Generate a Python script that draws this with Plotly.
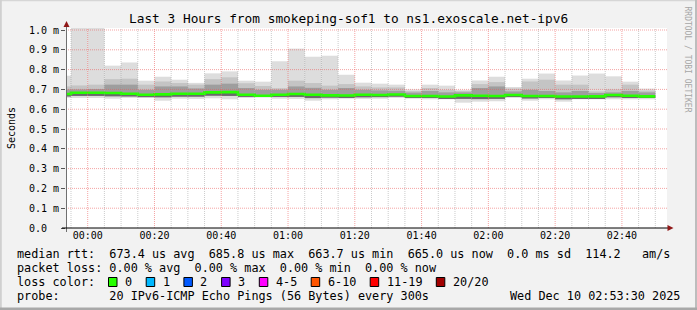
import plotly.graph_objects as go
import pandas as pd

# ---------------- data (RTT in milliseconds) ----------------
bin_start = pd.date_range("2025-12-09 23:50:00", periods=36, freq="5min")
range_start = "2025-12-09 23:53:30"
range_end = "2025-12-10 02:53:30"

rtt_max = [0.769, 1.012, 1.012, 0.820, 0.836, 0.744, 0.764, 0.749, 0.733, 0.781,
           0.791, 0.744, 0.739, 0.842, 0.906, 0.865, 0.870, 0.774, 0.734, 0.729,
           0.724, 0.700, 0.724, 0.719, 0.698, 0.745, 0.764, 0.712, 0.754, 0.780,
           0.745, 0.770, 0.780, 0.766, 0.739, 0.704]
rtt_p90 = [0.715, 0.720, 0.724, 0.752, 0.754, 0.724, 0.740, 0.732, 0.724, 0.752,
           0.761, 0.731, 0.717, 0.706, 0.744, 0.732, 0.719, 0.727, 0.715, 0.710,
           0.710, 0.692, 0.707, 0.698, 0.692, 0.727, 0.737, 0.704, 0.740, 0.749,
           0.724, 0.724, 0.690, 0.700, 0.724, 0.694]
rtt_p75 = [0.700, 0.700, 0.702, 0.724, 0.724, 0.698, 0.715, 0.715, 0.705, 0.724,
           0.729, 0.707, 0.698, 0.698, 0.715, 0.708, 0.698, 0.707, 0.698, 0.695,
           0.693, 0.684, 0.692, 0.685, 0.685, 0.707, 0.715, 0.690, 0.698, 0.692,
           0.685, 0.692, 0.682, 0.685, 0.692, 0.685]
rtt_median = [0.677, 0.683, 0.683, 0.682, 0.678, 0.673, 0.675, 0.678, 0.678, 0.685,
              0.686, 0.673, 0.668, 0.673, 0.677, 0.673, 0.670, 0.669, 0.673, 0.672,
              0.674, 0.667, 0.667, 0.664, 0.670, 0.668, 0.667, 0.672, 0.667, 0.667,
              0.664, 0.664, 0.665, 0.672, 0.668, 0.665]
rtt_p25 = [0.664, 0.667, 0.667, 0.665, 0.664, 0.661, 0.660, 0.663, 0.663, 0.668,
           0.667, 0.662, 0.663, 0.662, 0.662, 0.656, 0.658, 0.659, 0.660, 0.661,
           0.663, 0.659, 0.658, 0.656, 0.652, 0.651, 0.652, 0.663, 0.654, 0.657,
           0.650, 0.656, 0.656, 0.660, 0.658, 0.657]
rtt_min = [0.657, 0.657, 0.657, 0.653, 0.657, 0.657, 0.643, 0.653, 0.652, 0.655,
           0.650, 0.657, 0.659, 0.653, 0.652, 0.643, 0.650, 0.653, 0.652, 0.653,
           0.657, 0.653, 0.650, 0.650, 0.633, 0.638, 0.640, 0.657, 0.643, 0.650,
           0.638, 0.650, 0.650, 0.650, 0.650, 0.650]

y_tick_vals = [0.0, 0.1, 0.2, 0.3, 0.4, 0.5, 0.6, 0.7, 0.8, 0.9, 1.0]
y_tick_text = ["0.0\u00a0\u00a0", "0.1 m", "0.2 m", "0.3 m", "0.4 m", "0.5 m",
               "0.6 m", "0.7 m", "0.8 m", "0.9 m", "1.0 m"]

title_text = "Last 3 Hours from smokeping-sof1 to ns1.exoscale.net-ipv6"
line_rtt = "median rtt:  673.4 us avg  685.8 us max  663.7 us min  665.0 us now  0.0 ms sd  114.2   am/s"
line_loss = "packet loss: 0.00 % avg  0.00 % max  0.00 % min  0.00 % now"
line_color = "loss color:"
line_probe = "probe:       20 IPv6-ICMP Echo Pings (56 Bytes) every 300s"
stamp_text = "Wed Dec 10 02:53:30 2025"
loss_labels = ["0", "1", "2", "3", "4-5", "6-10", "11-19", "20/20"]
loss_colors = ["#26ff00", "#00b8ff", "#0059ff", "#7e00ff", "#ff00ff", "#ff5500", "#ff0000", "#a10000"]

# ---------------- layout geometry ----------------
W, H = 697, 310
ML, MR, MT, MB = 66, 30, 28, 82
PW, PH = W - ML - MR, H - MT - MB
MONO = "DejaVu Sans Mono"


def px(xp):
    return (xp - ML) / PW


def py(yp):
    return (H - MB - yp) / PH


def nb(s):
    return s.replace(" ", "\u00a0")


step = pd.Timedelta(minutes=5)
width_ms = [step.total_seconds() * 1000] * len(bin_start)

fig = go.Figure()

bands = [
    (rtt_min, rtt_max, "#dddddd"),
    (rtt_p25, rtt_p90, "#c4c4c4"),
    (rtt_median, rtt_p75, "#9e9e9e"),
    (rtt_p25, rtt_median, "#6a6a6a"),
]
for lo, hi, col in bands:
    fig.add_trace(go.Bar(
        x=bin_start, y=[h - l for h, l in zip(hi, lo)], base=lo,
        width=width_ms, offset=0,
        marker=dict(color=col, line=dict(width=0)),
        hoverinfo="skip",
    ))

fig.add_trace(go.Scatter(
    x=list(bin_start) + [bin_start[-1] + step],
    y=rtt_median + [rtt_median[-1]],
    mode="lines", line=dict(color="#26ff00", width=2.6, shape="hv"),
    hoverinfo="skip",
))

shapes = []
# grid (drawn above the smoke like rrdtool)
grid_times = pd.date_range("2025-12-09 23:55:00", "2025-12-10 02:50:00", freq="5min")
for t in grid_times:
    major = (t.minute % 20 == 0)
    shapes.append(dict(type="line", xref="x", yref="paper", x0=t, x1=t, y0=0, y1=1,
                       line=dict(color="rgba(235,90,90,0.55)" if major else "rgba(140,140,140,0.45)",
                                 width=1, dash="1px,1px")))
for v in y_tick_vals[1:]:
    shapes.append(dict(type="line", xref="paper", yref="y", x0=0, x1=1, y0=v, y1=v,
                       line=dict(color="rgba(235,90,90,0.55)", width=1, dash="1px,1px")))

# axes lines and arrows
shapes.append(dict(type="line", xref="paper", yref="paper", x0=px(66.5), x1=px(66.5),
                   y0=py(232), y1=py(26), line=dict(color="#707070", width=1)))
shapes.append(dict(type="path", xref="paper", yref="paper",
                   path=f"M {px(66.5)},{py(21)} L {px(69.5)},{py(27)} L {px(63.5)},{py(27)} Z",
                   fillcolor="#901818", line=dict(width=0)))
shapes.append(dict(type="line", xref="paper", yref="paper", x0=px(62), x1=px(669),
                   y0=py(228), y1=py(228), line=dict(color="#000000", width=1)))
shapes.append(dict(type="path", xref="paper", yref="paper",
                   path=f"M {px(673.5)},{py(228)} L {px(667.5)},{py(225)} L {px(667.5)},{py(231)} Z",
                   fillcolor="#901818", line=dict(width=0)))

# outer frame
shapes.append(dict(type="line", xref="paper", yref="paper", x0=px(0), x1=px(W), y0=py(0.5), y1=py(0.5),
                   line=dict(color="#d6d6d6", width=1.5)))
shapes.append(dict(type="line", xref="paper", yref="paper", x0=px(0.8), x1=px(0.8), y0=py(0), y1=py(H),
                   line=dict(color="#d0d0d0", width=2)))
shapes.append(dict(type="line", xref="paper", yref="paper", x0=px(W - 1), x1=px(W - 1), y0=py(0), y1=py(H),
                   line=dict(color="#bdbdbd", width=2)))
shapes.append(dict(type="line", xref="paper", yref="paper", x0=px(0), x1=px(W), y0=py(H - 1.2), y1=py(H - 1.2),
                   line=dict(color="#a8a8a8", width=2.5)))

annotations = []


def text(x, y, s, size, xanchor="left", color="#000000", angle=0):
    annotations.append(dict(xref="paper", yref="paper", x=px(x), y=py(y), text=nb(s),
                            showarrow=False, xanchor=xanchor, yanchor="middle", textangle=angle,
                            font=dict(family=MONO, size=size, color=color), borderpad=0))


text(348, 18.5, title_text, 12.8, xanchor="center")
text(11, 128, "Seconds", 10, xanchor="center", angle=-90)
text(687.5, 59, "RRDTOOL / TOBI OETIKER", 8, xanchor="center", color="#a6a6a6", angle=90)

text(16, 254.3, line_rtt, 11.8)
text(16, 268.3, line_loss, 11.8)
text(16, 282, line_color, 11.8)
text(16, 296.3, line_probe, 11.8)
text(681, 296.3, stamp_text, 11.8, xanchor="right")

# loss colour boxes
bx = 108.5
for lab, col in zip(loss_labels, loss_colors):
    shapes.append(dict(type="rect", xref="paper", yref="paper",
                       x0=px(bx), x1=px(bx + 8.5), y0=py(277.5), y1=py(286.5),
                       fillcolor=col, line=dict(color="#000000", width=1)))
    text(bx + 15.5, 282, lab, 11.8)
    bx += 30.6 + len(lab) * 7.1

fig.update_layout(
    template="none",
    width=W, height=H,
    margin=dict(l=ML, r=MR, t=MT, b=MB, pad=0),
    paper_bgcolor="#f2f2f2",
    plot_bgcolor="#ffffff",
    barmode="overlay",
    showlegend=False,
    shapes=shapes,
    annotations=annotations,
    xaxis=dict(type="date", range=[range_start, range_end],
               tick0="2025-12-10 00:00:00", dtick=20 * 60 * 1000, tickformat="%H:%M",
               showgrid=False, zeroline=False, showline=False, ticks="",
               tickfont=dict(family=MONO, size=10, color="#000000"), fixedrange=True),
    yaxis=dict(range=[0, PH / 198.0], tickvals=y_tick_vals, ticktext=y_tick_text,
               showgrid=False, zeroline=False, showline=False,
               ticks="outside", ticklen=4, tickcolor="#555555",
               tickfont=dict(family=MONO, size=10, color="#000000"), fixedrange=True),
)

fig.write_html("out.html")
